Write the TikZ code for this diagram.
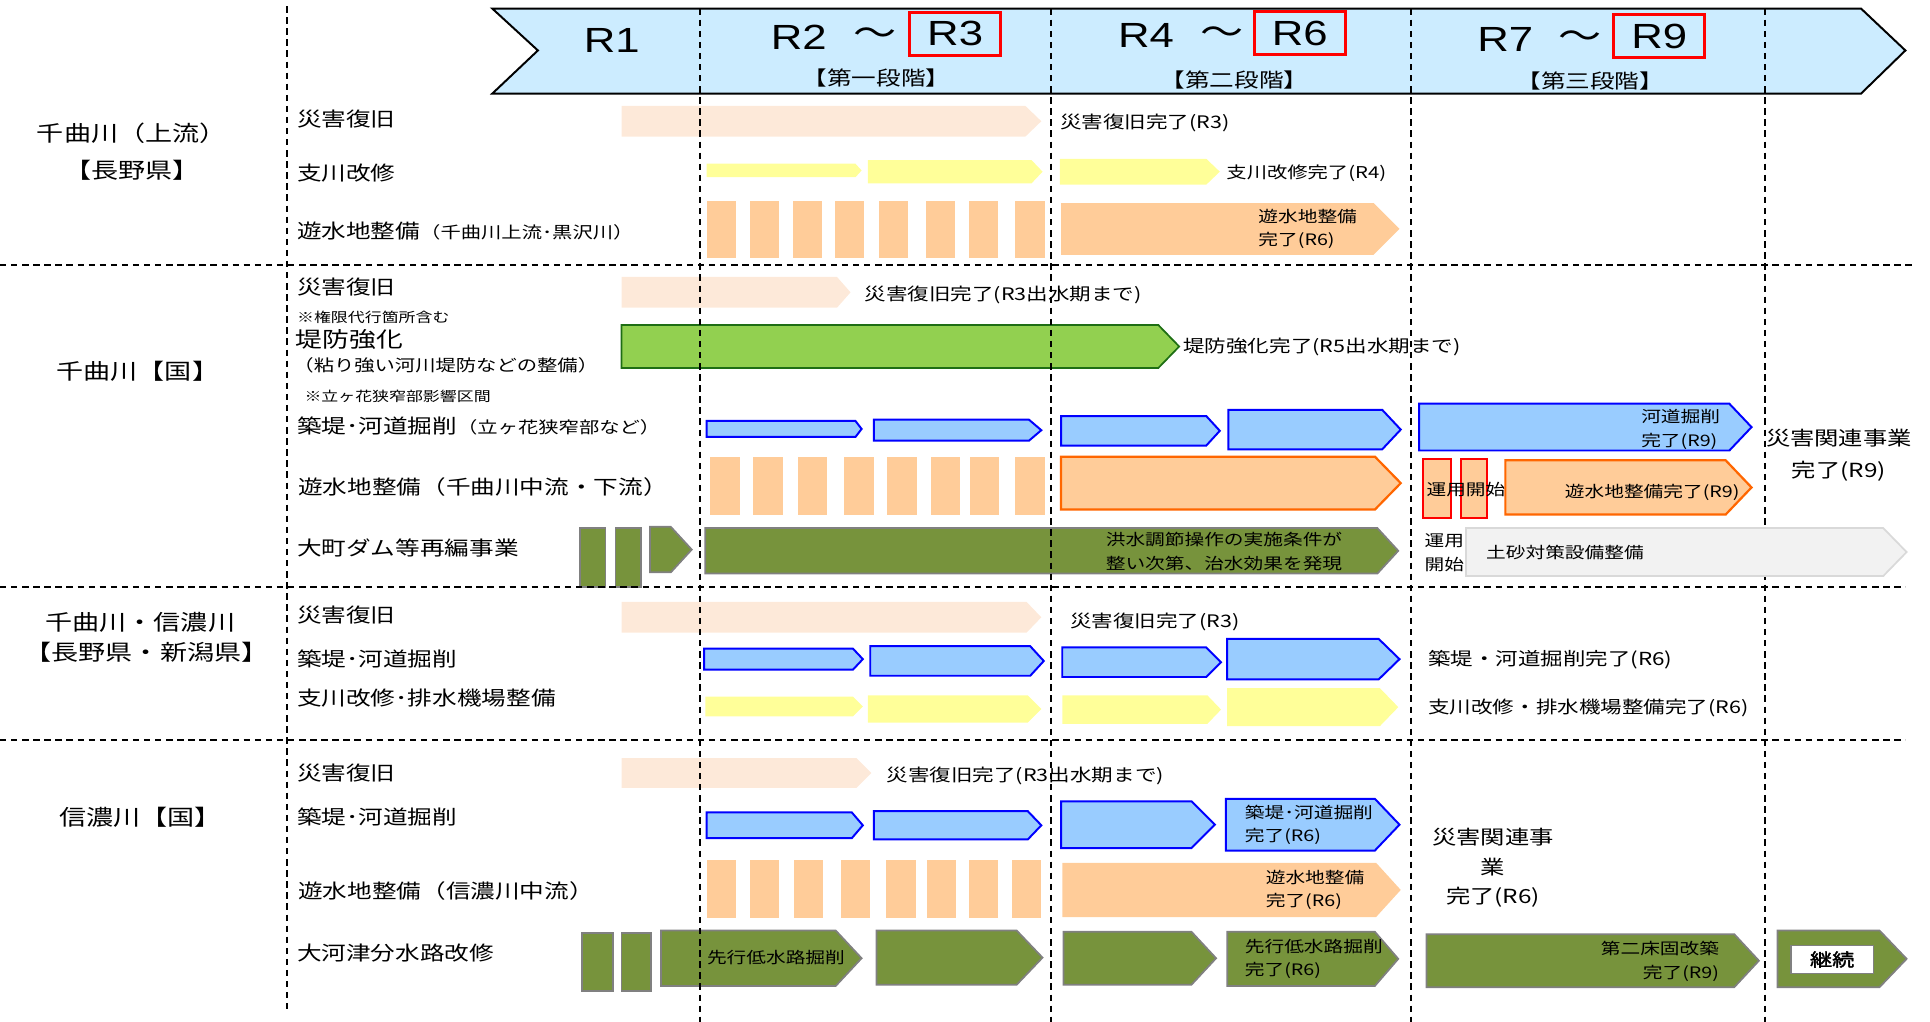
\documentclass[tikz,border=0pt]{standalone}
\usepackage{fontspec}
\setmainfont{Noto Sans CJK JP}[FakeStretch=1.25]
\newfontfamily\rfont{Liberation Sans}[FakeStretch=1.25]
\newfontfamily\boldjp{Noto Sans CJK JP}[FakeStretch=1.25,FakeBold=2]

\definecolor{cHead}{RGB}{204,236,255}
\definecolor{cRecov}{RGB}{253,233,217}
\definecolor{cTrib}{RGB}{255,255,153}
\definecolor{cPond}{RGB}{255,204,153}
\definecolor{cOrange}{RGB}{255,102,0}
\definecolor{cLevee}{RGB}{153,204,255}
\definecolor{cDike}{RGB}{146,208,80}
\definecolor{cDikeLine}{RGB}{30,110,20}
\definecolor{cOlive}{RGB}{119,147,60}
\definecolor{cGray}{RGB}{128,128,128}
\definecolor{cSand}{RGB}{242,242,242}
\definecolor{cSandLine}{RGB}{217,217,217}

\begin{document}
\begin{tikzpicture}[x=0.5pt, y=-0.5pt,
    lbl/.style={anchor=west, inner sep=0pt, font=\fontsize{8}{9.6}\selectfont},
    grp/.style={inner sep=0pt, font=\fontsize{8.8}{10.5}\selectfont},
    note/.style={anchor=west, inner sep=0pt, font=\fontsize{5.5}{6.6}\selectfont},
    done/.style={anchor=west, inner sep=0pt, font=\fontsize{7}{8.4}\selectfont},
    intxt/.style={anchor=west, align=left, inner sep=0pt, font=\fontsize{6.4}{9.5}\selectfont},
    rlab/.style={inner sep=0pt, font=\rfont\fontsize{14.2}{17}\selectfont},
    stage/.style={inner sep=0pt, font=\fontsize{8}{9.6}\selectfont},
    rbox/.style={draw=red, line width=1.3pt, minimum width=37pt, minimum height=17.5pt},
    sep/.style={dash pattern=on 2.6pt off 1.9pt, line width=0.75pt},
    recov/.style={fill=cRecov},
    trib/.style={fill=cTrib},
    pond/.style={fill=cPond},
    pondline/.style={fill=cPond, draw=cOrange, line width=0.9pt},
    levee/.style={fill=cLevee, draw=blue, line width=0.8pt},
    dike/.style={fill=cDike, draw=cDikeLine, line width=0.7pt},
    dam/.style={fill=cOlive, draw=cGray, line width=0.7pt},
    sand/.style={fill=cSand, draw=cSandLine, line width=0.7pt},
    opbox/.style={fill=cPond, draw=red, line width=0.8pt}]
    \useasboundingbox (0,0) rectangle (1568,830);

    % header
    \filldraw[fill=cHead, draw=black, line width=0.8pt] (400,7) -- (1512,7) -- (1548,41) -- (1512,76) -- (400,76) -- (437,41) -- cycle;
    \node[rlab] (r1) at (497,33) {R1};
    \node[rlab] (r2) at (649,30) {R2};
    \node[rlab, font=\fontsize{14}{17}\selectfont] (t1) at (711,30) {～};
    \node[rlab, rbox] (r3) at (776,27.5) {R3};
    \node[rlab] (r4) at (931,29) {R4};
    \node[rlab, font=\fontsize{14}{17}\selectfont] (t2) at (993,29) {～};
    \node[rlab, rbox] (r6) at (1056,27) {R6};
    \node[rlab] (r7) at (1223,32) {R7};
    \node[rlab, font=\fontsize{14}{17}\selectfont] (t3) at (1284,32) {～};
    \node[rlab, rbox] (r9) at (1348,29.5) {R9};
    \node[stage] (s1) at (712,63) {【第一段階】};
    \node[stage] (s2) at (1003,65) {【第二段階】};
    \node[stage] (s3) at (1292,66) {【第三段階】};

    % 千曲川(上流)
    \node[grp] (g1a) at (107,108) {千曲川（上流）};
    \node[grp] (g1b) at (107,138) {【長野県】};
    \node[lbl] (l11) at (241,97) {災害復旧};
    \node[lbl] (l12) at (241,141) {支川改修};
    \node[lbl] (l13) at (241,188) {遊水地整備{\fontsize{6.6}{7.9}\selectfont（千曲川上流･黒沢川）}};
    \fill[recov] (505,86) -- (833,86) -- (846,98.5) -- (833,111) -- (505,111) -- cycle;
    \fill[trib] (574,133) -- (695,133) -- (700,138.5) -- (695,144) -- (574,144) -- cycle;
    \fill[trib] (705,130) -- (838,130) -- (847,139.5) -- (838,149) -- (705,149) -- cycle;
    \fill[trib] (861,129) -- (980,129) -- (991,139.5) -- (980,150) -- (861,150) -- cycle;
    \foreach \x in {574,609,644,678,714,752,787,825}
        \fill[pond] (\x,163) rectangle ++(24,47);
    \fill[pond] (862,165) -- (1116,165) -- (1137,186) -- (1116,207) -- (862,207) -- cycle;
    \node[intxt] (p1) at (1022,186) {遊水地整備\\完了(R6)};
    \node[done] (d11) at (861,100) {災害復旧完了(R3)};
    \node[done, font=\fontsize{6.6}{7.9}\selectfont] (d12) at (996,141) {支川改修完了(R4)};

    % 千曲川【国】
    \node[grp] (g2) at (112,302) {千曲川【国】};
    \node[lbl] (l21) at (241,233) {災害復旧};
    \node[note] (n1) at (241,258) {※権限代行箇所含む};
    \node[lbl, font=\fontsize{8.7}{10.4}\selectfont] (l22) at (240,276) {堤防強化};
    \node[lbl, font=\fontsize{6.6}{7.9}\selectfont] (l22b) at (238,297) {（粘り強い河川堤防などの整備）};
    \node[note] (n2) at (247,322) {※立ヶ花狭窄部影響区間};
    \node[lbl] (l23) at (241,346) {築堤･河道掘削{\fontsize{6.6}{7.9}\selectfont（立ヶ花狭窄部など）}};
    \node[lbl] (l24) at (242,396) {遊水地整備（千曲川中流・下流）};
    \node[lbl] (l25) at (241,445) {大町ダム等再編事業};
    \fill[recov] (505,225) -- (680,225) -- (691,237.5) -- (680,250) -- (505,250) -- cycle;
    \node[done] (d21) at (702,240) {災害復旧完了(R3出水期まで)};
    \filldraw[dike] (505,264) -- (941,264) -- (958,281.5) -- (941,299) -- (505,299) -- cycle;
    \node[done] (d22) at (961,282) {堤防強化完了(R5出水期まで)};
    \filldraw[levee] (574,342) -- (695,342) -- (700,348.5) -- (695,355) -- (574,355) -- cycle;
    \filldraw[levee] (710,341) -- (836,341) -- (846,349.5) -- (836,358) -- (710,358) -- cycle;
    \filldraw[levee] (862,338) -- (980,338) -- (991,350) -- (980,362) -- (862,362) -- cycle;
    \filldraw[levee] (998,333) -- (1123,333) -- (1138,349) -- (1123,365) -- (998,365) -- cycle;
    \filldraw[levee] (1153,328) -- (1405,328) -- (1423,347) -- (1405,366) -- (1153,366) -- cycle;
    \node[intxt] (e1) at (1333,349) {河道掘削\\完了(R9)};
    \foreach \x in {577,612,648,686,721,756,788,825}
        \fill[pond] (\x,371) rectangle ++(24,47);
    \filldraw[pondline] (862,371) -- (1117,371) -- (1138,392.5) -- (1117,414) -- (862,414) -- cycle;
    \filldraw[opbox] (1156,373) rectangle (1179,421);
    \filldraw[opbox] (1187,373) rectangle (1208,421);
    \node[intxt, anchor=center] (o1) at (1191,398) {運用開始};
    \filldraw[pondline] (1223,374) -- (1402,374) -- (1423,396) -- (1402,418) -- (1223,418) -- cycle;
    \node[intxt] (p2) at (1271,400) {遊水地整備完了(R9)};
    \filldraw[dam] (471,429) rectangle (492,477);
    \filldraw[dam] (500,429) rectangle (521,477);
    \filldraw[dam] (528,428) -- (545,428) -- (562,446.5) -- (545,465) -- (528,465) -- cycle;
    \filldraw[dam] (573,429) -- (1119,429) -- (1136,447.5) -- (1119,466) -- (573,466) -- cycle;
    \node[intxt] (m1) at (898,448) {洪水調節操作の実施条件が\\整い次第、治水効果を発現};
    \node[intxt] (o2) at (1157,449) {運用\\開始};
    \node[grp, align=center, font=\fontsize{7.9}{13}\selectfont] (k1) at (1494,370) {災害関連事業\\完了(R9)};

    % 千曲川・信濃川
    \node[grp] (g3a) at (114,506) {千曲川・信濃川};
    \node[grp] (g3b) at (119,530) {【長野県・新潟県】};
    \node[lbl] (l31) at (241,500) {災害復旧};
    \node[lbl] (l32) at (241,535) {築堤･河道掘削};
    \node[lbl] (l33) at (241,567) {支川改修･排水機場整備};
    \fill[recov] (505,489) -- (834,489) -- (846,501.5) -- (834,514) -- (505,514) -- cycle;
    \node[done] (d31) at (869,505) {災害復旧完了(R3)};
    \filldraw[levee] (572,527) -- (693,527) -- (701,535.5) -- (693,544) -- (572,544) -- cycle;
    \filldraw[levee] (707,525) -- (837,525) -- (848,537) -- (837,549) -- (707,549) -- cycle;
    \filldraw[levee] (863,526) -- (980,526) -- (992,538) -- (980,550) -- (863,550) -- cycle;
    \filldraw[levee] (997,519) -- (1120,519) -- (1137,535.5) -- (1120,552) -- (997,552) -- cycle;
    \node[done, font=\fontsize{7.3}{8.8}\selectfont] (d32) at (1160,536) {築堤・河道掘削完了(R6)};
    \fill[trib] (573,566) -- (693,566) -- (701,574) -- (693,582) -- (573,582) -- cycle;
    \fill[trib] (705,565) -- (835,565) -- (846,576) -- (835,587) -- (705,587) -- cycle;
    \fill[trib] (863,565) -- (981,565) -- (992,576.5) -- (981,588) -- (863,588) -- cycle;
    \fill[trib] (997,559) -- (1121,559) -- (1136,574.5) -- (1121,590) -- (997,590) -- cycle;
    \node[done] (d33) at (1160,575) {支川改修・排水機場整備完了(R6)};

    % 信濃川【国】
    \node[grp] (g4) at (114,664) {信濃川【国】};
    \node[lbl] (l41) at (241,628) {災害復旧};
    \node[lbl] (l42) at (241,664) {築堤･河道掘削};
    \node[lbl] (l43) at (242,724) {遊水地整備（信濃川中流）};
    \node[lbl] (l44) at (241,774) {大河津分水路改修};
    \fill[recov] (505,616) -- (696,616) -- (708,628) -- (696,640) -- (505,640) -- cycle;
    \node[done] (d41) at (720,630) {災害復旧完了(R3出水期まで)};
    \filldraw[levee] (574,660) -- (692,660) -- (701,670.5) -- (692,681) -- (574,681) -- cycle;
    \filldraw[levee] (710,659) -- (835,659) -- (846,670.5) -- (835,682) -- (710,682) -- cycle;
    \filldraw[levee] (862,651) -- (968,651) -- (987,670) -- (968,689) -- (862,689) -- cycle;
    \filldraw[levee] (996,649) -- (1117,649) -- (1137,670) -- (1117,691) -- (996,691) -- cycle;
    \node[intxt] (e2) at (1011,670) {築堤･河道掘削\\完了(R6)};
    \foreach \x in {574,609,645,683,720,753,787,822}
        \fill[pond] (\x,699) rectangle ++(24,47);
    \fill[pond] (863,701) -- (1118,701) -- (1138,723) -- (1118,745) -- (863,745) -- cycle;
    \node[intxt] (p3) at (1028,723) {遊水地整備\\完了(R6)};
    \node[grp, align=center, font=\fontsize{7.9}{12}\selectfont] (k2) at (1213,705) {災害関連事\\業\\完了(R6)};
    \filldraw[dam] (473,758) rectangle (498,805);
    \filldraw[dam] (505,758) rectangle (529,805);
    \filldraw[dam] (537,756) -- (679,756) -- (700,778.5) -- (679,801) -- (537,801) -- cycle;
    \node[intxt] (c1) at (574,778) {先行低水路掘削};
    \filldraw[dam] (712,756) -- (826,756) -- (847,778) -- (826,800) -- (712,800) -- cycle;
    \filldraw[dam] (864,757) -- (968,757) -- (988,778.5) -- (968,800) -- (864,800) -- cycle;
    \filldraw[dam] (997,757) -- (1117,757) -- (1136,779) -- (1117,801) -- (997,801) -- cycle;
    \node[intxt] (c2) at (1011,779) {先行低水路掘削\\完了(R6)};
    \filldraw[dam] (1159,759) -- (1409,759) -- (1429,780.5) -- (1409,802) -- (1159,802) -- cycle;
    \node[intxt, anchor=east, align=right] (c3) at (1397,781) {第二床固改築\\完了(R9)};
    \filldraw[dam] (1444,756) -- (1527,756) -- (1549,779) -- (1527,802) -- (1444,802) -- cycle;
    \node[draw=cGray, fill=white, line width=0.6pt, minimum width=33.5pt, minimum height=11.5pt, inner sep=0pt,
          font=\boldjp\fontsize{7.2}{8.6}\selectfont] (c4) at (1488.5,779.5) {継続};

    % separators
    \draw[sep] (233,5) -- (233,820);
    \draw[sep] (569,7) -- (569,830);
    \draw[sep] (854,7) -- (854,830);
    \draw[sep] (1146,7) -- (1146,830);
    \draw[sep] (1434,7) -- (1434,830);
    \draw[sep] (0,215) -- (1555,215);
    \draw[sep] (0,477) -- (1548,477);
    \draw[sep] (0,601) -- (1548,601);

    \filldraw[sand] (1191,429) -- (1530,429) -- (1549,448.5) -- (1530,468) -- (1191,468) -- cycle;
    \node[intxt] (sd) at (1207,449) {土砂対策設備整備};
\end{tikzpicture}
\end{document}
